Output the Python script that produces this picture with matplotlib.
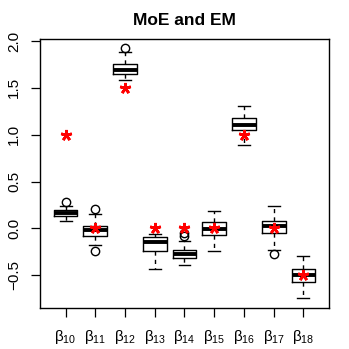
import numpy as np
import matplotlib
matplotlib.use("Agg")
import matplotlib.pyplot as plt

plt.rcParams['font.family'] = ['Liberation Sans', 'DejaVu Sans']
plt.rcParams['mathtext.fontset'] = 'custom'
plt.rcParams['mathtext.rm'] = 'Liberation Sans'

# values
labels = ["β$_{10}$", "β$_{11}$", "β$_{12}$", "β$_{13}$", "β$_{14}$",
          "β$_{15}$", "β$_{16}$", "β$_{17}$", "β$_{18}$"]
q1 = [0.136, -0.078, 1.646, -0.239, -0.314, -0.071, 1.053, -0.054, -0.574]
med = [0.165, -0.021, 1.692, -0.146, -0.271, -0.003, 1.107, 0.021, -0.499]
q3 = [0.193, 0.029, 1.756, -0.096, -0.228, 0.064, 1.174, 0.082, -0.435]
whislo = [0.082, -0.178, 1.585, -0.439, -0.396, -0.246, 0.885, -0.228, -0.745]
whishi = [0.243, 0.154, 1.884, -0.060, -0.139, 0.190, 1.303, 0.243, -0.292]
fliers = [[0.283], [0.208, -0.239], [1.924], [], [-0.086, -0.050], [], [], [-0.278], []]
true_vals = [1.0, 0.0, 1.5, 0.0, 0.0, 0.0, 1.0, 0.0, -0.5]

stats = []
for i in range(len(labels)):
    stats.append(dict(q1=q1[i], med=med[i], q3=q3[i], whislo=whislo[i],
                      whishi=whishi[i], fliers=fliers[i]))

fig = plt.figure(figsize=(3.49, 3.49), dpi=100)
ax = fig.add_axes([0.1146, 0.1175, 0.8281, 0.7705])

pos = np.arange(1, len(labels) + 1)
ax.bxp(stats, positions=pos, widths=0.8, showfliers=True,
       boxprops=dict(color='black', linewidth=1.0),
       medianprops=dict(color='black', linewidth=2.8, solid_capstyle='butt'),
       whiskerprops=dict(color='black', linewidth=1.0, linestyle=(0, (3, 3))),
       capprops=dict(color='black', linewidth=1.0),
       flierprops=dict(marker='o', markerfacecolor='none', markeredgecolor='black',
                       markersize=6, markeredgewidth=1.0),
       capwidths=0.4)

ax.plot(pos, true_vals, linestyle='none', marker=(5, 2, 0), color='red',
        markersize=8, markeredgewidth=1.9, zorder=5)

ax.set_xlim(0.14, 9.86)
ax.set_ylim(-0.85, 2.02)
ax.set_xticks(pos)
ax.set_xticklabels(labels, fontsize=11)
ax.set_yticks([-0.5, 0.0, 0.5, 1.0, 1.5, 2.0])
ax.set_yticklabels(["\u22120.5", "0.0", "0.5", "1.0", "1.5", "2.0"], fontsize=11,
                   rotation=90, va='center')
ax.tick_params(axis='both', length=6.5, width=0.9, color='black')
ax.tick_params(axis='x', pad=8)
ax.tick_params(axis='y', pad=7)
for s in ax.spines.values():
    s.set_linewidth(1.0)

ax.set_title("MoE and EM", fontsize=12.5, fontweight='bold', pad=10)

fig.savefig("out.png", dpi=100)
